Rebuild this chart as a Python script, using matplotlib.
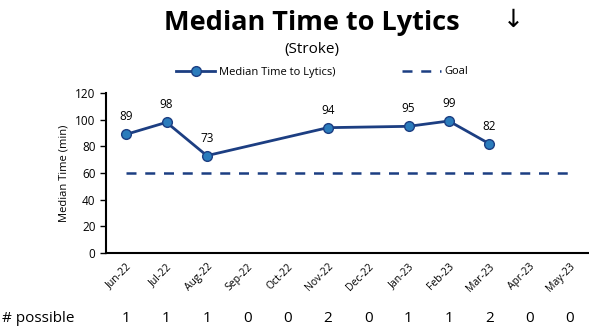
import numpy as np
import matplotlib.pyplot as plt

months = ["Jun-22", "Jul-22", "Aug-22", "Sep-22", "Oct-22", "Nov-22",
          "Dec-22", "Jan-23", "Feb-23", "Mar-23", "Apr-23", "May-23"]
median_time = [89, 98, 73, None, None, 94, None, 95, 99, 82, None, None]
goal = [60] * 12
possible = [1, 1, 1, 0, 0, 2, 0, 1, 1, 2, 0, 0]

plt.rcParams['font.family'] = ['Open Sans', 'DejaVu Sans']

fig = plt.figure(figsize=(5.89, 3.28), dpi=100)
W, H = 589, 328
ax = fig.add_axes([106 / W, 1 - 253 / H, (590 - 106) / W, (253 - 93) / H])

x = np.arange(len(months))
xs = [i for i, v in zip(x, median_time) if v is not None]
ys = [v for v in median_time if v is not None]

line_col = "#1c3e82"
ax.plot(x, goal, ls=(0, (4, 3.5)), color=line_col, lw=1.8, label="Goal")
ax.plot(xs, ys, color=line_col, lw=2, marker="o", ms=7,
        mfc="#2b7cbc", mec=line_col, mew=1, label="Median Time to Lytics)")

for xi, yi in zip(xs, ys):
    ax.annotate(str(yi), (xi, yi), xytext=(0, 8), textcoords="offset points",
                ha="center", va="bottom", fontsize=8.5)

ax.set_xlim(-0.5, 11.5)
ax.set_ylim(0, 120)
ax.set_yticks(range(0, 121, 20))
ax.set_xticks(x)
ax.set_xticklabels(months, rotation=45, ha="right", rotation_mode="anchor", fontsize=7.5)
ax.tick_params(axis="y", labelsize=8.5, length=4, width=1)
ax.tick_params(axis="x", length=0, pad=6)
ax.set_ylabel("Median Time (min)", fontsize=8)
for s in ["top", "right"]:
    ax.spines[s].set_visible(False)
for s in ["left", "bottom"]:
    ax.spines[s].set_linewidth(1.5)

# title and legend
fig.text(312 / W, 1 - 23 / H, "Median Time to Lytics", ha="center", va="center",
         fontsize=19.5, fontweight="bold")
fig.text(513 / W, 1 - 20 / H, "\u2193", ha="center", va="center", fontsize=18)
fig.text(312 / W, 1 - 50 / H, "(Stroke)", ha="center", va="center", fontsize=11)
h, l = ax.get_legend_handles_labels()
fig.legend(h[::-1], l[::-1], loc="center", bbox_to_anchor=(322 / W, 1 - 72 / H),
           ncol=2, frameon=False, fontsize=8, columnspacing=6, handlelength=3.5,
           handletextpad=0.3)

# possible counts row
fig.text(2 / W, 1 - 318 / H, "# possible", ha="left", va="center", fontsize=11)
for xi, n in zip(x, possible):
    xd = ax.transData.transform((xi, 0))[0]
    fig.text(xd / W, 1 - 318 / H, str(n), ha="center", va="center", fontsize=11)

fig.savefig("out.png", dpi=100)
